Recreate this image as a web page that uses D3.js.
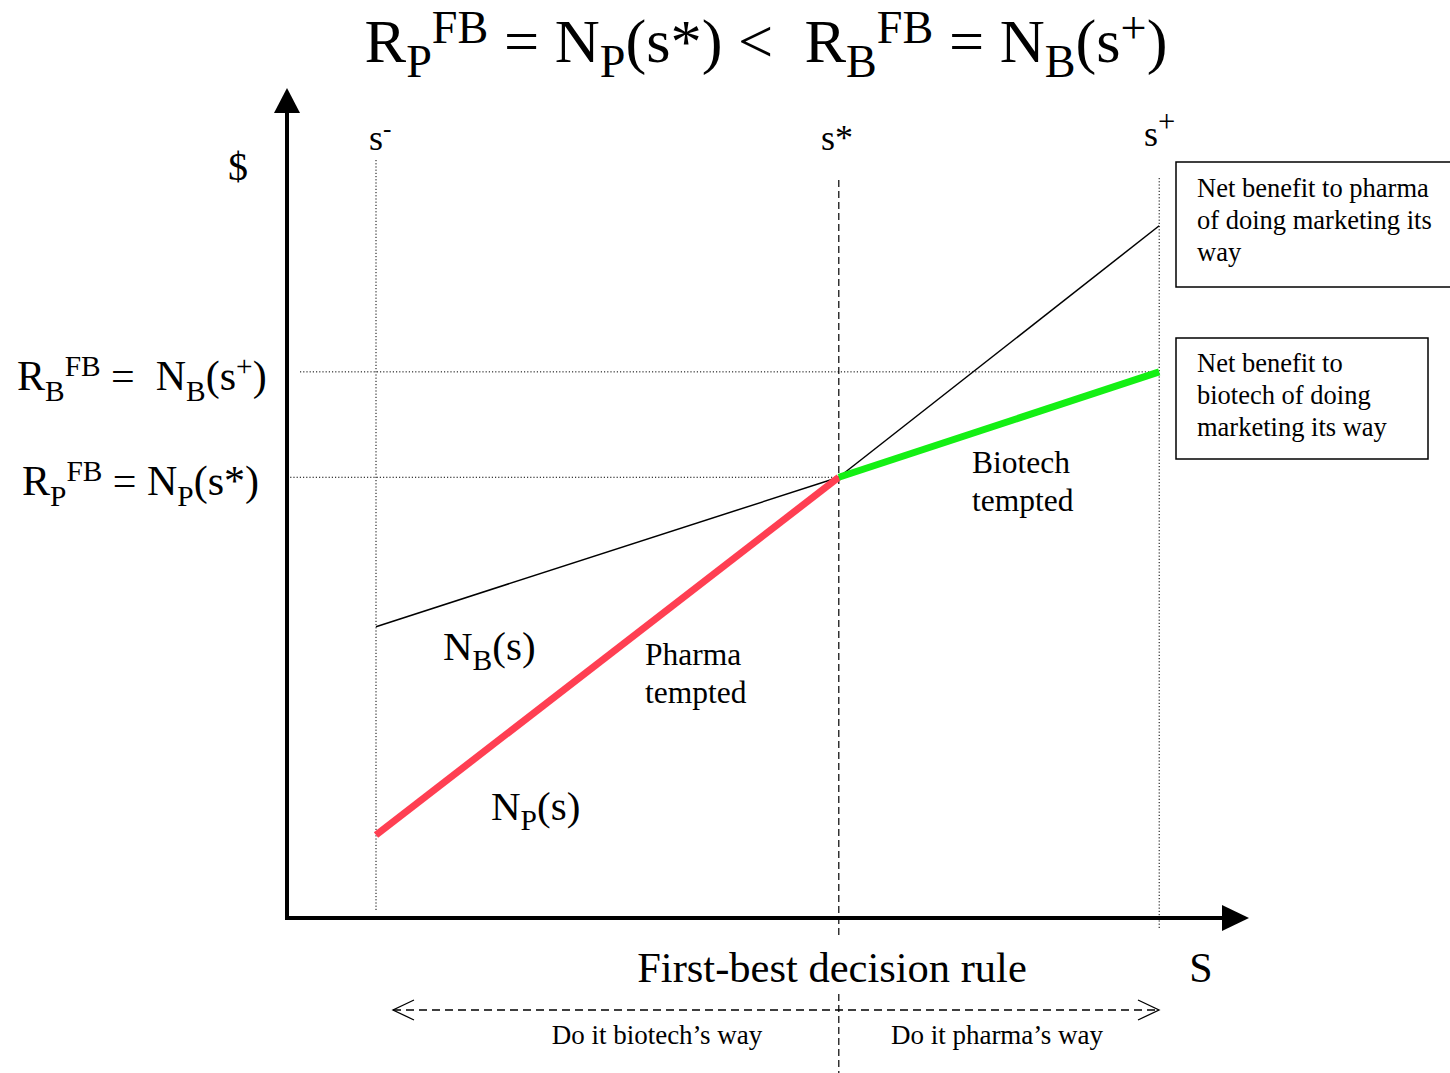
<!DOCTYPE html>
<html>
<head>
<meta charset="utf-8">
<script src="https://cdn.jsdelivr.net/npm/d3@7/dist/d3.min.js"></script>
<style>
  html, body { margin: 0; padding: 0; background: #fff; }
  svg { display: block; }
  text { font-family: "Liberation Serif", "Times New Roman", serif; fill: #000; }
</style>
</head>
<body>
<svg id="chart" width="1450" height="1073"></svg>
<script>
// Key decision points along the S axis
const sPoints = [
  { key: "sMinus", s: 1.0 },
  { key: "sStar",  s: 6.2 },
  { key: "sPlus",  s: 9.8 }
];
// Net benefit schedules evaluated at s-, s*, s+
const netPharma  = [1.0, 5.31, 8.34];   // N_P(s)
const netBiotech = [3.51, 5.31, 6.58];  // N_B(s)
// Reservation levels shown on the $ axis
const reservePharma  = 5.31;  // R_P^FB = N_P(s*)
const reserveBiotech = 6.58;  // R_B^FB = N_B(s+)

const svg = d3.select("#chart");
const x = d3.scaleLinear().domain([0, 10]).range([287, 1177]);
const y = d3.scaleLinear().domain([0, 10]).range([918, 88]);

const RED = "#ff3f52", GREEN = "#14f014";
const NB = "\u00a0";

// Rich text: parts are [string, mode] with mode "", "sub" or "sup"
function rich(parent, px, py, parts, size, anchor, subScale, supShift) {
  const sc = subScale || 0.75;
  const up = supShift || 0.36;
  const t = parent.append("text").attr("x", px).attr("y", py)
    .attr("font-size", size).attr("text-anchor", anchor || "start");
  let cur = 0;
  parts.forEach(([s, mode]) => {
    const off = mode === "sub" ? 0.25 * size : mode === "sup" ? -up * size : 0;
    const ts = t.append("tspan").attr("dy", off - cur).text(s);
    if (mode) ts.attr("font-size", size * sc);
    cur = off;
  });
  return t;
}

const sx = i => x(sPoints[i].s);

// Guide lines
const guides = svg.append("g").attr("fill", "none").attr("stroke", "#000").attr("stroke-width", 1);
guides.append("line").attr("x1", sx(0)).attr("x2", sx(0)).attr("y1", 160).attr("y2", y(0) - 6)
  .attr("stroke-dasharray", "1.2,2");
guides.append("line").attr("x1", sx(2)).attr("x2", sx(2)).attr("y1", 178).attr("y2", y(0) + 10)
  .attr("stroke-dasharray", "1.2,2");
guides.append("line").attr("x1", sx(1)).attr("x2", sx(1)).attr("y1", 180).attr("y2", 1073)
  .attr("stroke-dasharray", "7,4").attr("stroke-width", 1.2);
guides.append("line").attr("x1", 300).attr("x2", sx(2)).attr("y1", y(reserveBiotech)).attr("y2", y(reserveBiotech))
  .attr("stroke-dasharray", "1.2,2");
guides.append("line").attr("x1", x(0)).attr("x2", sx(1)).attr("y1", y(reservePharma)).attr("y2", y(reservePharma))
  .attr("stroke-dasharray", "1.2,2");

// Curves
const line = d3.line().x(d => x(d.s)).y(d => y(d.v));
const seg = (vals, a, b) => d3.range(a, b + 1).map(i => ({ s: sPoints[i].s, v: vals[i] }));
svg.append("path").attr("d", line(seg(netBiotech, 0, 1))).attr("stroke", "#000").attr("stroke-width", 1.5).attr("fill", "none");
svg.append("path").attr("d", line(seg(netPharma, 1, 2))).attr("stroke", "#000").attr("stroke-width", 1.5).attr("fill", "none");
svg.append("path").attr("d", line(seg(netPharma, 0, 1))).attr("stroke", RED).attr("stroke-width", 7).attr("fill", "none");
svg.append("path").attr("d", line(seg(netBiotech, 1, 2))).attr("stroke", GREEN).attr("stroke-width", 7).attr("fill", "none");

// Axes with arrowheads
const axes = svg.append("g");
axes.append("line").attr("x1", x(0)).attr("x2", x(0)).attr("y1", y(0) + 2).attr("y2", 110)
  .attr("stroke", "#000").attr("stroke-width", 4);
axes.append("path").attr("d", `M${x(0)},88 L${x(0) - 13},113 L${x(0) + 13},113 Z`).attr("fill", "#000");
axes.append("line").attr("x1", x(0) - 2).attr("x2", 1225).attr("y1", y(0)).attr("y2", y(0))
  .attr("stroke", "#000").attr("stroke-width", 4);
axes.append("path").attr("d", `M1249,${y(0)} L1222,${y(0) - 13} L1222,${y(0) + 13} Z`).attr("fill", "#000");

// Title
const title = rich(svg, 766, 62, [
  ["R", ""], ["P", "sub"], ["FB", "sup"], [" = N", ""], ["P", "sub"], ["(s*) <" + NB + NB + "R", ""],
  ["B", "sub"], ["FB", "sup"], [" = N", ""], ["B", "sub"], ["(s", ""], ["+", "sup"], [")", ""]
], 62, "middle", 0.74, 0.3);
{
  const bb = title.node().getBBox();
  const k = 803 / bb.width;
  title.attr("transform", `translate(${766 * (1 - k)},0) scale(${k},1)`);
}

// $ axis labels
rich(svg, 17, 390, [["R", ""], ["B", "sub"], ["FB", "sup"], [" =" + NB + NB + "N", ""], ["B", "sub"], ["(s", ""], ["+", "sup"], [")", ""]], 42, "start", 0.7, 0.34);
rich(svg, 22, 495, [["R", ""], ["P", "sub"], ["FB", "sup"], [" = N", ""], ["P", "sub"], ["(s*)", ""]], 42, "start", 0.7, 0.34);
svg.append("text").attr("x", 238).attr("y", 180).attr("font-size", 40).attr("text-anchor", "middle").text("$");

// Decision point labels
rich(svg, 369, 150, [["s", ""], ["-", "sup"]], 36, "start", 0.7);
svg.append("text").attr("x", 821).attr("y", 150).attr("font-size", 36).text("s*");
rich(svg, 1144, 146, [["s", ""], ["+", "sup"]], 36, "start", 0.85, 0.4);

// Curve labels
rich(svg, 443, 660, [["N", ""], ["B", "sub"], ["(s)", ""]], 41, "start", 0.72);
rich(svg, 491, 820, [["N", ""], ["P", "sub"], ["(s)", ""]], 41, "start", 0.72);
const multi = (px, py, lines, size, lh) => {
  const t = svg.append("text").attr("font-size", size);
  lines.forEach((l, i) => t.append("tspan").attr("x", px).attr("y", py + i * lh).text(l));
};
multi(645, 665, ["Pharma", "tempted"], 31.5, 38);
multi(972, 473, ["Biotech", "tempted"], 31.5, 38);

// Legend boxes
const boxes = svg.append("g").attr("fill", "none").attr("stroke", "#000").attr("stroke-width", 1.5);
boxes.append("rect").attr("x", 1176).attr("y", 162).attr("width", 290).attr("height", 125);
boxes.append("rect").attr("x", 1176).attr("y", 338).attr("width", 252).attr("height", 121);
multi(1197, 197, ["Net benefit to pharma", "of doing marketing its", "way"], 26.5, 32);
multi(1197, 372, ["Net benefit to", "biotech of doing", "marketing its way"], 26.5, 32);

// S axis labels; the rule label sits on a white backing that interrupts the s* guide
const ruleBack = svg.append("rect").attr("fill", "#fff");
const ruleLabel = svg.append("text").attr("x", 832).attr("y", 982).attr("font-size", 42.5)
  .attr("text-anchor", "middle").text("First-best decision rule");
{
  const bb = ruleLabel.node().getBBox();
  ruleBack.attr("x", bb.x).attr("y", 938).attr("width", bb.width).attr("height", 56);
}
svg.append("text").attr("x", 1201).attr("y", 982).attr("font-size", 42).attr("text-anchor", "middle").text("S");

// Decision-rule double arrow
const arr = svg.append("g").attr("stroke", "#000").attr("fill", "none").attr("stroke-width", 1.3);
arr.append("line").attr("x1", 393).attr("x2", 1159).attr("y1", 1010).attr("y2", 1010).attr("stroke-dasharray", "8,5");
arr.append("path").attr("d", "M414,1000 L393,1010 L414,1020");
arr.append("path").attr("d", "M1138,1000 L1159,1010 L1138,1020");
svg.append("text").attr("x", 657).attr("y", 1044).attr("font-size", 27).attr("text-anchor", "middle").text("Do it biotech\u2019s way");
svg.append("text").attr("x", 997).attr("y", 1044).attr("font-size", 27).attr("text-anchor", "middle").text("Do it pharma\u2019s way");
</script>
</body>
</html>
